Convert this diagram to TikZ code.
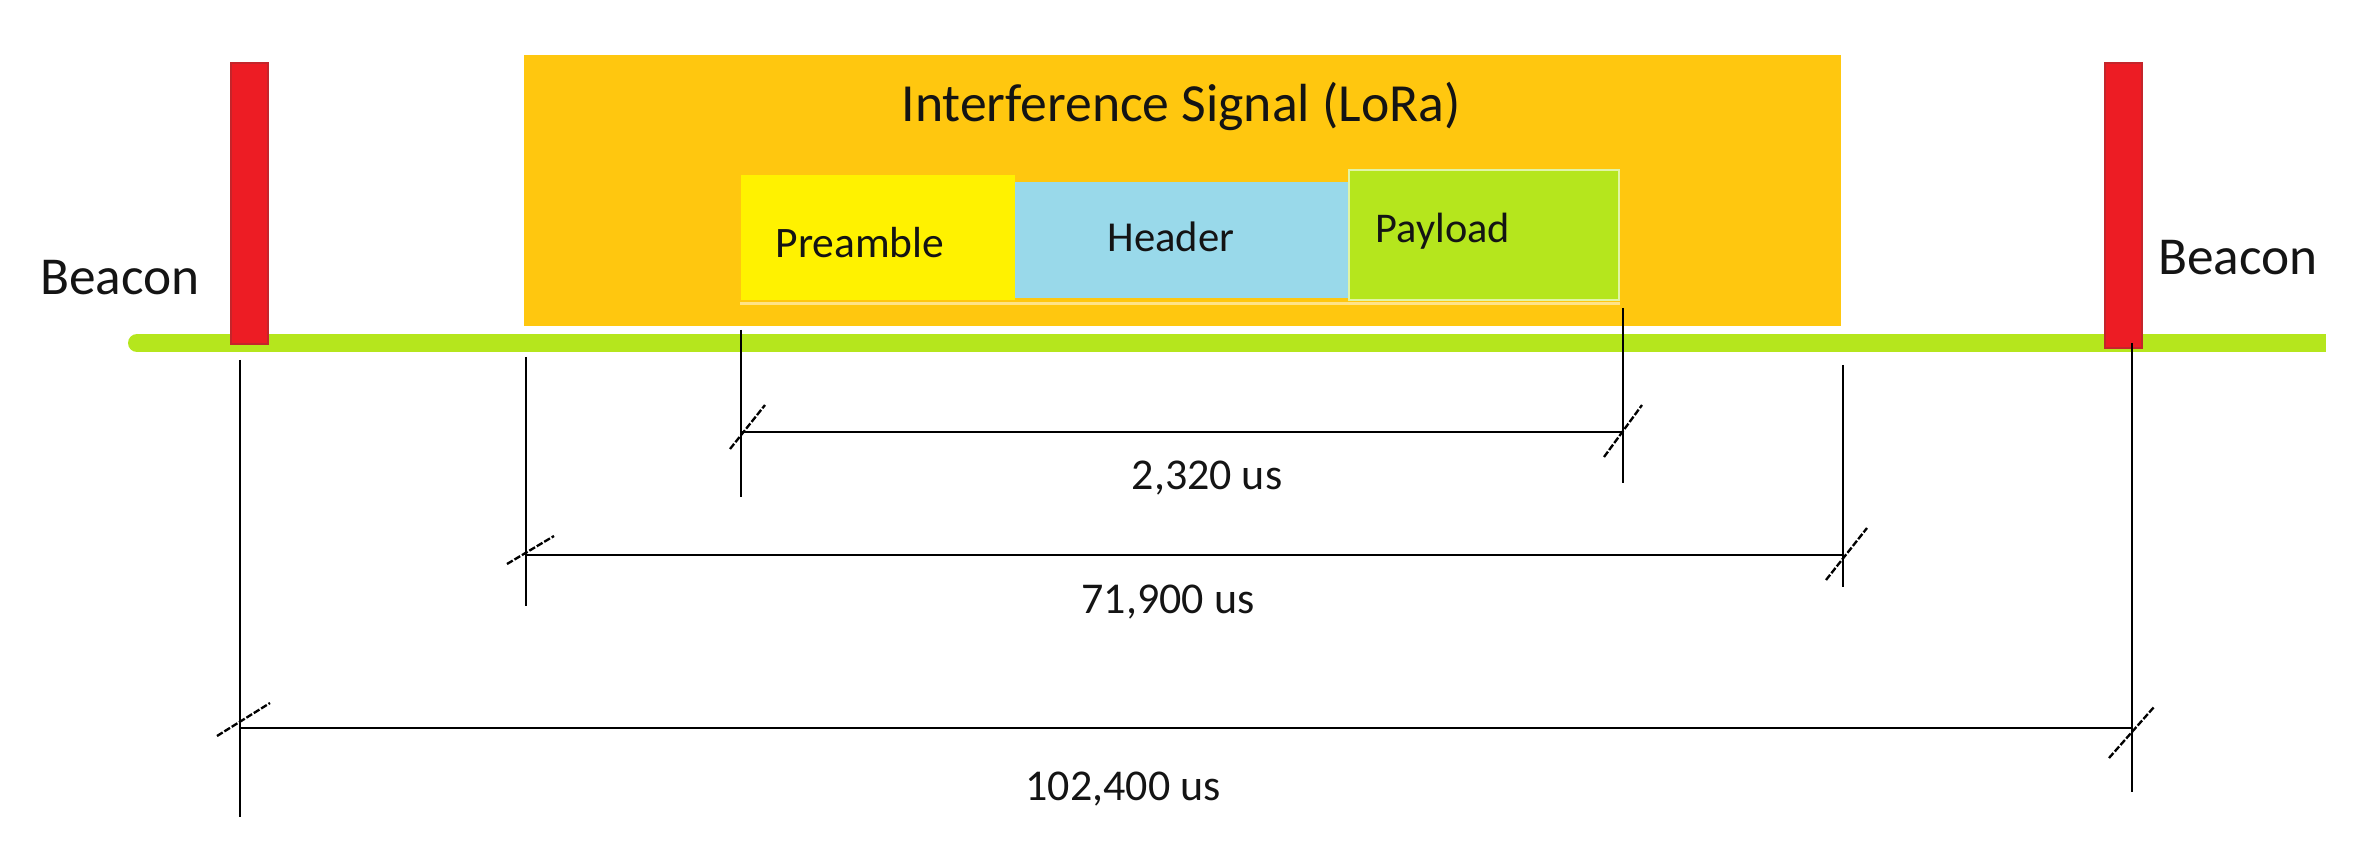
\documentclass[tikz,border=0pt]{standalone}
\usepackage{fontspec}
\setmainfont{Carlito}
\usetikzlibrary{calc}
\definecolor{paintred}{HTML}{ED1C24}
\definecolor{paintreddark}{HTML}{C4252B}
\definecolor{paintgold}{HTML}{FFC70F}
\definecolor{paintyellow}{HTML}{FFF200}
\definecolor{paintlime}{HTML}{B5E61D}
\definecolor{painttur}{HTML}{99D9EA}
\definecolor{inkc}{HTML}{141414}
\tikzset{
  seg/.style={rectangle, inner sep=0pt, draw=none},
  lbl/.style={inner sep=0pt, anchor=base, text=inkc},
  dimline/.style={draw=black, line width=0.85pt},
  tickmark/.style={draw=black, line width=0.7pt, dash pattern=on 2pt off 0.6pt},
  beaconbar/.style={fill=paintred, draw=paintreddark, line width=0.6pt},
}
\begin{document}
\begin{tikzpicture}[x=0.3pt, y=-0.3pt]
\useasboundingbox (0,0) rectangle (2371,848);
\fill[white] (0,0) rectangle (2371,848);

% timeline (green)
\fill[paintlime] (137,334) rectangle (2326,352);
\fill[paintlime] (137,343) circle[radius=9];

% interference signal box
\node[seg, fill=paintgold, minimum width={1317*0.3pt}, minimum height={271*0.3pt}] (intf) at (1182.5,190.5) {};
\node[lbl, font=\fontsize{16.1}{19}\selectfont] (title) at (1181,122) {Interference Signal (LoRa)};

% packet parts
\node[seg, fill=paintyellow, minimum width={274*0.3pt}, minimum height={125*0.3pt}] (pre) at (878,237.5) {};
\node[seg, fill=painttur, minimum width={334*0.3pt}, minimum height={116*0.3pt}] (hdr) at (1182,240) {};
\node[seg, fill=paintlime, draw=white!60!paintlime, line width=0.6pt, minimum width={270*0.3pt}, minimum height={130*0.3pt}] (pay) at (1484,235) {};
\draw[white!50!paintgold, line width=0.8pt] (pre.south west) ++(0,3) coordinate (ul) -- (ul -| pay.south east);

\node[lbl, font=\fontsize{13.05}{16}\selectfont] (tpre) at (860,258) {Preamble};
\node[lbl, font=\fontsize{12.8}{16}\selectfont] (thdr) at (1171,252) {Header};
\node[lbl, font=\fontsize{12.7}{16}\selectfont] (tpay) at (1443,243) {Payload};

% beacons
\node[seg, beaconbar, minimum width={37*0.3pt}, minimum height={281*0.3pt}] (b1) at (249.5,203.5) {};
\node[seg, beaconbar, minimum width={37*0.3pt}, minimum height={285*0.3pt}] (b2) at (2123.5,205.5) {};
\node[lbl, font=\fontsize{16}{19}\selectfont] (tb1) at (120,295) {Beacon};
\node[lbl, font=\fontsize{16}{19}\selectfont] (tb2) at (2238,275) {Beacon};

% extension lines
\coordinate (e1t) at (240,360);  \coordinate (e1b) at (240,817);
\coordinate (e2t) at (526,357);  \coordinate (e2b) at (526,606);
\coordinate (e3t) at (741,330);  \coordinate (e3b) at (741,497);
\coordinate (e4t) at (1623,308); \coordinate (e4b) at (1623,483);
\coordinate (e5t) at (1843,365); \coordinate (e5b) at (1843,587);
\coordinate (e6t) at (2132,343); \coordinate (e6b) at (2132,792);
\foreach \i in {1,...,6} {\draw[dimline] (e\i t) -- (e\i b);}

% dimension lines
\coordinate (d1l) at (741,432);  \coordinate (d1r) at (1623,432);
\coordinate (d2l) at (526,555);  \coordinate (d2r) at (1843,555);
\coordinate (d3l) at (240,728);  \coordinate (d3r) at (2132,728);
\draw[dimline] (d1l) -- (d1r);
\draw[dimline] (d2l) -- (d2r);
\draw[dimline] (d3l) -- (d3r);

% tick marks
\draw[tickmark] ($(d1l)+(-11,17)$) -- ($(d1l)+(24,-27)$);
\draw[tickmark] ($(d1r)+(-19,25)$) -- ($(d1r)+(19,-27)$);
\draw[tickmark] ($(d2l)+(-19,9)$) -- ($(d2l)+(28,-19)$);
\draw[tickmark] ($(d2r)+(-17,25)$) -- ($(d2r)+(24,-27)$);
\draw[tickmark] ($(d3l)+(-23,8)$) -- ($(d3l)+(30,-25)$);
\draw[tickmark] ($(d3r)+(-23,30)$) -- ($(d3r)+(22,-21)$);

% labels
\node[lbl, font=\fontsize{13.2}{16}\selectfont] (l1) at (1207,490) {2,320 us};
\node[lbl, font=\fontsize{13.2}{16}\selectfont] (l2) at (1168,613) {71,900 us};
\node[lbl, font=\fontsize{13.2}{16}\selectfont] (l3) at (1123,800) {102,400 us};
\end{tikzpicture}
\end{document}
